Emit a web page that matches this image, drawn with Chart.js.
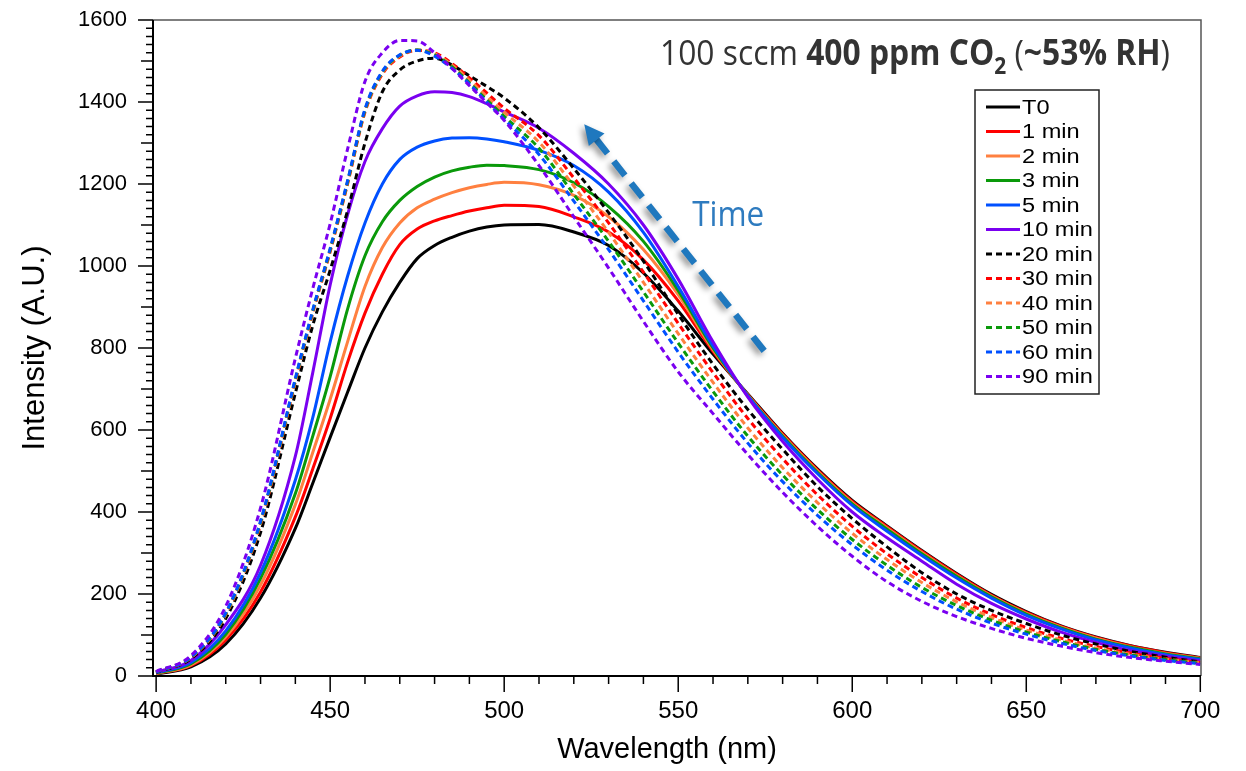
<!DOCTYPE html>
<html>
<head>
<meta charset="utf-8">
<script src="https://cdn.jsdelivr.net/npm/chart.js@4/dist/chart.umd.min.js"></script>
<style>
html,body{margin:0;padding:0;background:#fff;}
canvas{display:block;}
</style>
</head>
<body>
<canvas id="c" width="1246" height="771"></canvas>
<script>
// ---------------- DATA ----------------
const wavelengths = [400,410,420,430,440,445,450,455,460,465,470,475,480,485,490,495,500,510,520,530,540,550,560,570,580,590,600,610,620,630,640,650,660,670,680,690,700];

const seriesNames = ['T0','1 min','2 min','3 min','5 min','10 min','20 min','30 min','40 min','50 min','60 min','90 min'];

const intT0    = [5,22,78,190,360,470,582,692,800,888,960,1018,1050,1070,1085,1095,1100,1101,1083,1050,983,890,785,688,592,505,428,366,306,250,199,157,122,95,74,58,45];
const int1min  = [6,25,88,205,388,505,628,765,885,980,1052,1090,1110,1123,1134,1142,1148,1145,1120,1083,1015,915,792,686,590,503,426,364,304,248,197,155,121,94,73,57,44];
const int2min  = [6,27,95,222,418,545,675,815,950,1045,1105,1142,1163,1179,1191,1199,1204,1198,1172,1120,1040,930,796,685,587,500,423,361,301,245,195,153,119,92,71,55,43];
const int3min  = [7,30,102,238,445,585,730,895,1025,1108,1160,1194,1217,1232,1241,1246,1245,1235,1203,1145,1060,940,800,684,585,497,420,358,298,243,193,151,117,90,70,54,42];
const int5min  = [8,33,110,252,478,630,815,975,1105,1200,1260,1290,1305,1312,1313,1310,1303,1282,1245,1180,1082,950,805,683,582,494,416,353,294,239,190,148,115,88,68,52,40];
const int10min = [9,38,125,270,536,740,954,1125,1255,1335,1390,1415,1425,1423,1413,1396,1376,1336,1275,1200,1100,968,815,680,572,480,400,337,280,224,177,139,107,82,62,48,37];
const int20min = [9,42,140,350,690,855,990,1135,1300,1425,1478,1500,1507,1490,1464,1438,1410,1337,1238,1130,1012,882,760,650,553,462,384,315,252,200,160,128,100,78,60,46,34];
const int30min = [10,45,150,370,718,885,1035,1200,1375,1468,1510,1526,1520,1494,1459,1422,1385,1318,1215,1105,985,860,740,628,530,442,365,298,240,190,150,118,92,72,56,43,33];
const int40min = [10,45,150,372,720,888,1038,1203,1378,1471,1512,1527,1518,1490,1453,1413,1375,1302,1195,1082,960,835,716,605,508,423,348,284,228,181,143,112,88,68,53,41,32];
const int50min = [10,46,152,375,723,890,1040,1205,1380,1473,1514,1527,1515,1486,1447,1405,1365,1287,1175,1060,937,812,694,585,490,406,333,270,216,172,136,107,84,65,51,40,31];
const int60min = [10,46,154,378,726,893,1043,1208,1383,1475,1515,1526,1512,1482,1444,1400,1358,1272,1158,1040,915,790,675,568,474,392,320,258,206,163,129,102,80,62,49,38,30];
const int90min = [11,50,170,410,775,945,1103,1285,1450,1520,1550,1549,1520,1482,1440,1398,1355,1245,1120,995,865,742,640,540,448,365,292,230,182,145,116,92,73,57,45,36,28];

const seriesValues = [intT0,int1min,int2min,int3min,int5min,int10min,int20min,int30min,int40min,int50min,int60min,int90min];

const xTickValues = [400,450,500,550,600,650,700];
const yTickValues = [0,200,400,600,800,1000,1200,1400,1600];

// annotation anchors (data coordinates)
const arrowTail = {x: 574.7, y: 793};
const arrowTip  = {x: 523.0, y: 1346};
const timeAnchor = {x: 554.0, y: 1098};

// ---------------- STYLE ----------------
const lineColors = ['#000000','#FF0000','#FF8040','#0A990A','#0050FF','#7A00F0',
                    '#000000','#FF0000','#FF8040','#0A990A','#0050FF','#7A00F0'];
const isDashed = [false,false,false,false,false,false,true,true,true,true,true,true];
const DASH = [6,4];
const FONT = "'Liberation Sans', Arial, Helvetica, sans-serif";
const TITLE_FONT = "'Open Sans', 'Noto Sans', sans-serif";

Chart.defaults.font.family = FONT;
Chart.defaults.color = '#000';

const datasets = seriesNames.map((name, i) => ({
  label: name,
  data: wavelengths.map((w, k) => ({x: w, y: seriesValues[i][k]})),
  borderColor: lineColors[i],
  backgroundColor: lineColors[i],
  borderWidth: 3,
  borderDash: isDashed[i] ? DASH : [],
  pointRadius: 0,
  fill: false,
  cubicInterpolationMode: 'monotone',
  order: seriesNames.length - i
}));

const overlay = {
  id: 'overlay',
  afterDraw(chart) {
    const {ctx, chartArea: a, scales: {x, y}} = chart;
    ctx.save();

    // minor/major ticks
    ctx.strokeStyle = '#000';
    ctx.lineWidth = 1.5;
    ctx.setLineDash([]);
    ctx.beginPath();
    for (let v = 400; v <= 700; v += 10) {
      const px = x.getPixelForValue(v);
      const len = (v % 50 === 0) ? 16 : 8;
      ctx.moveTo(px, a.bottom);
      ctx.lineTo(px, a.bottom + len);
    }
    for (let v = 0; v <= 1600; v += 20) {
      const py = y.getPixelForValue(v);
      const len = (v % 200 === 0) ? 15 : (v % 100 === 0 ? 12 : 7);
      ctx.moveTo(a.left, py);
      ctx.lineTo(a.left - len, py);
    }
    ctx.stroke();

    // frame
    ctx.strokeStyle = '#555';
    ctx.lineWidth = 1.5;
    ctx.beginPath();
    ctx.moveTo(a.left, a.top); ctx.lineTo(a.right, a.top); ctx.lineTo(a.right, a.bottom);
    ctx.stroke();
    ctx.strokeStyle = '#000';
    ctx.lineWidth = 2;
    ctx.beginPath();
    ctx.moveTo(a.left, a.top); ctx.lineTo(a.left, a.bottom); ctx.lineTo(a.right, a.bottom);
    ctx.stroke();

    // x axis title
    ctx.fillStyle = '#000';
    ctx.font = '29px ' + FONT;
    ctx.textAlign = 'center';
    ctx.textBaseline = 'alphabetic';
    ctx.fillText('Wavelength (nm)', (a.left + a.right) / 2 - 10, 758);

    // legend
    const lx = a.right - 226, ly = a.top + 70, lw = 124, lh = 304;
    ctx.fillStyle = '#fff';
    ctx.fillRect(lx, ly, lw, lh);
    ctx.strokeStyle = '#222';
    ctx.lineWidth = 1.5;
    ctx.strokeRect(lx, ly, lw, lh);
    chart.data.datasets.forEach((ds, i) => {
      const cy = ly + 17 + i * 24.5;
      ctx.strokeStyle = ds.borderColor;
      ctx.lineWidth = 3;
      ctx.setLineDash(ds.borderDash || []);
      ctx.beginPath();
      ctx.moveTo(lx + 11, cy);
      ctx.lineTo(lx + 45, cy);
      ctx.stroke();
      ctx.setLineDash([]);
      ctx.save();
      ctx.translate(lx + 47, cy);
      ctx.scale(1.18, 1);
      ctx.fillStyle = '#000';
      ctx.font = '20px ' + FONT;
      ctx.textAlign = 'left';
      ctx.textBaseline = 'middle';
      ctx.fillText(ds.label, 0, 1);
      ctx.restore();
    });

    // title with mixed weights and subscript
    const segs = [
      {t: '100 sccm ', w: 400, sub: false},
      {t: '400 ppm CO', w: 700, sub: false},
      {t: '2', w: 700, sub: true},
      {t: ' (', w: 400, sub: false},
      {t: '~53% RH', w: 700, sub: false},
      {t: ')', w: 400, sub: false}
    ];
    const fs = 35, subFs = 23;
    let total = 0;
    segs.forEach(s => {
      ctx.font = s.w + ' ' + (s.sub ? subFs : fs) + 'px ' + TITLE_FONT;
      s.width = ctx.measureText(s.t).width;
      total += s.width;
    });
    const targetW = 510;
    const sx = targetW / total;
    const tx0 = a.right - 31 - targetW;
    const base = a.top + 45;
    ctx.save();
    ctx.translate(tx0, base);
    ctx.scale(sx, 1);
    ctx.fillStyle = '#333';
    ctx.textAlign = 'left';
    ctx.textBaseline = 'alphabetic';
    let cx = 0;
    segs.forEach(s => {
      ctx.font = s.w + ' ' + (s.sub ? subFs : fs) + 'px ' + TITLE_FONT;
      ctx.fillText(s.t, cx, s.sub ? 9 : 0);
      cx += s.width;
    });
    ctx.restore();

    // "Time" label
    ctx.save();
    ctx.font = '400 34px ' + TITLE_FONT;
    const tw = ctx.measureText('Time').width;
    ctx.translate(x.getPixelForValue(timeAnchor.x), y.getPixelForValue(timeAnchor.y));
    ctx.scale(72 / tw, 1);
    ctx.fillStyle = '#2E7BBF';
    ctx.textAlign = 'left';
    ctx.textBaseline = 'alphabetic';
    ctx.fillText('Time', 0, 0);
    ctx.restore();

    // dashed arrow with shadow
    const p1 = {x: x.getPixelForValue(arrowTail.x), y: y.getPixelForValue(arrowTail.y)};
    const p2 = {x: x.getPixelForValue(arrowTip.x), y: y.getPixelForValue(arrowTip.y)};
    const dx = p2.x - p1.x, dy = p2.y - p1.y;
    const L = Math.hypot(dx, dy);
    const ux = dx / L, uy = dy / L;
    const headLen = 20, headHalf = 10;
    const bx = p2.x - ux * headLen, by = p2.y - uy * headLen;
    ctx.save();
    ctx.shadowColor = 'rgba(0,0,0,0.45)';
    ctx.shadowBlur = 6;
    ctx.shadowOffsetX = -3;
    ctx.shadowOffsetY = 3;
    ctx.strokeStyle = '#1F78BE';
    ctx.fillStyle = '#1F78BE';
    ctx.lineWidth = 6.5;
    ctx.lineCap = 'butt';
    ctx.setLineDash([18, 10]);
    ctx.beginPath();
    ctx.moveTo(p1.x, p1.y);
    ctx.lineTo(bx + ux * 2, by + uy * 2);
    ctx.stroke();
    ctx.setLineDash([]);
    ctx.beginPath();
    ctx.moveTo(p2.x, p2.y);
    ctx.lineTo(bx - uy * headHalf, by + ux * headHalf);
    ctx.lineTo(bx + uy * headHalf, by - ux * headHalf);
    ctx.closePath();
    ctx.fill();
    ctx.restore();

    ctx.restore();
  }
};

new Chart(document.getElementById('c'), {
  type: 'line',
  data: {datasets},
  options: {
    responsive: false,
    devicePixelRatio: 1,
    animation: false,
    events: [],
    layout: {padding: {top: 20, right: 45, left: 0, bottom: 0}},
    plugins: {legend: {display: false}, tooltip: {enabled: false}},
    scales: {
      x: {
        type: 'linear',
        min: 399.1,
        max: 700.2,
        afterBuildTicks: (axis) => { axis.ticks = xTickValues.map(v => ({value: v})); },
        afterFit: (s) => { s.height = 95; s.paddingLeft = 0; s.paddingRight = 0; },
        grid: {display: false, drawTicks: false},
        border: {display: false},
        ticks: {font: {size: 24}, padding: 21, color: '#000', maxRotation: 0, autoSkip: false,
                callback: (v) => String(v)},
        title: {display: false}
      },
      y: {
        type: 'linear',
        min: 0,
        max: 1600,
        afterBuildTicks: (axis) => { axis.ticks = yTickValues.map(v => ({value: v})); },
        afterFit: (s) => { s.width = 153; s.paddingTop = 0; s.paddingBottom = 0; },
        grid: {display: false, drawTicks: false},
        border: {display: false},
        ticks: {font: {size: 22}, padding: 26, color: '#000', autoSkip: false,
                callback: (v) => String(v)},
        title: {display: true, text: 'Intensity (A.U.)', font: {size: 31}, color: '#000', padding: {top: 17, bottom: 0}}
      }
    }
  },
  plugins: [overlay]
});
</script>
</body>
</html>
